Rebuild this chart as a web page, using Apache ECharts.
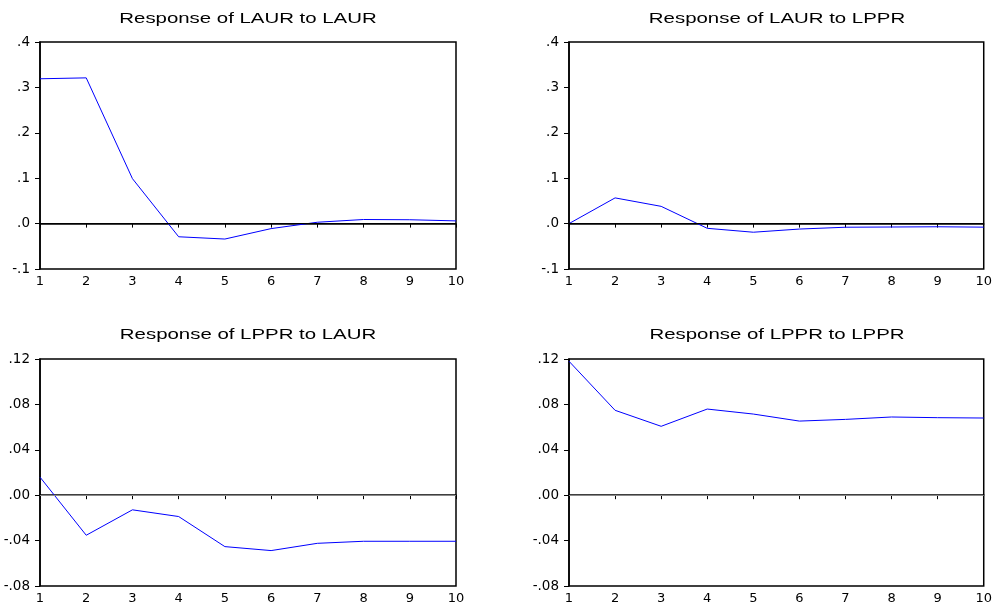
<!DOCTYPE html>
<html lang="en">
<head>
  <meta charset="UTF-8">
  <title>Impulse responses</title>
  <script src="https://cdn.jsdelivr.net/npm/echarts@6/dist/echarts.min.js"></script>
  <style>
    html, body { margin: 0; padding: 0; background: #fff; }
    #irf { width: 995px; height: 607px; }
  </style>
</head>
<body>
<div id="irf"></div>
<script>
  // periods 1..10
  var periods = [1, 2, 3, 4, 5, 6, 7, 8, 9, 10];

  // responses
  var laurToLaur = [0.319, 0.321, 0.099, -0.029, -0.034, -0.011, 0.003, 0.009, 0.0085, 0.006];
  var laurToLppr = [0.0, 0.0566, 0.038, -0.0104, -0.019, -0.012, -0.008, -0.0075, -0.007, -0.0078];
  var lpprToLaur = [0.0159, -0.0353, -0.0129, -0.0188, -0.0453, -0.0488, -0.0424, -0.0406, -0.0406, -0.0406];
  var lpprToLppr = [0.118, 0.0748, 0.0607, 0.0759, 0.0715, 0.0653, 0.0668, 0.0689, 0.0683, 0.068];

  var titles = ['Response of LAUR to LAUR', 'Response of LAUR to LPPR',
                'Response of LPPR to LAUR', 'Response of LPPR to LPPR'];
  var allSeries = [laurToLaur, laurToLppr, lpprToLaur, lpprToLppr];

  // y-axis settings: top row / bottom row
  var yTop = { min: -0.1, max: 0.4, interval: 0.1, digits: 1 };
  var yBottom = { min: -0.08, max: 0.12, interval: 0.04, digits: 2 };

  var myChart = echarts.init(document.getElementById('irf'));

  var font = 'Liberation Sans, Arial, sans-serif';
  var boxes = [
    { left: 40, top: 42, cx: 248, ty: 19 },
    { left: 569, top: 42, cx: 777, ty: 19 },
    { left: 40, top: 359, cx: 248, ty: 335 },
    { left: 569, top: 359, cx: 777, ty: 335 }
  ];

  // eviews style labels: .4  -.1  .00
  function fmt(d) {
    return function (v) {
      return v.toFixed(d).replace('0.', '.');
    };
  }

  var grids = [], xAxes = [], yAxes = [], series = [], graphics = [];
  for (var i = 0; i < 4; i++) {
    var b = boxes[i];
    var yc = i < 2 ? yTop : yBottom;
    grids.push({
      left: b.left, top: b.top, width: 416, height: 227,
      show: true, borderColor: '#000', borderWidth: 1.5, backgroundColor: '#fff'
    });
    xAxes.push({
      type: 'value', gridIndex: i, min: 1, max: 10, interval: 1,
      axisLine: { lineStyle: { color: '#000', width: 1.5 } },
      axisTick: { inside: false, length: 4, lineStyle: { color: '#000' } },
      splitLine: { show: false },
      axisLabel: { color: '#000', fontFamily: 'DejaVu Sans', fontSize: 13, margin: 6 }
    });
    yAxes.push({
      type: 'value', gridIndex: i, min: yc.min, max: yc.max, interval: yc.interval,
      axisLine: { show: true, lineStyle: { color: '#000', width: 1.5 } },
      axisTick: { show: true, inside: false, length: 5, lineStyle: { color: '#000' } },
      splitLine: { show: false },
      axisLabel: { color: '#000', fontFamily: 'DejaVu Sans', fontSize: 13.5, margin: 10,
                   formatter: fmt(yc.digits) }
    });
    var pts = periods.map(function (p, k) { return [p, allSeries[i][k]]; });
    series.push({
      type: 'line', xAxisIndex: i, yAxisIndex: i, data: pts,
      showSymbol: false, silent: true,
      lineStyle: { color: '#0000ff', width: 1 },
      markLine: {
        silent: true, symbol: 'none', label: { show: false },
        lineStyle: { color: i < 2 ? '#000' : '#8a8a8a', width: 1, type: 'solid' },
        data: [{ yAxis: 0 }]
      }
    });
    graphics.push({
      type: 'text', x: b.cx, y: b.ty, scaleX: 1.36,
      style: {
        text: titles[i], fill: '#000', font: '15px ' + font,
        textAlign: 'center', textVerticalAlign: 'middle'
      }
    });
  }

  var option = {
    animation: false,
    backgroundColor: '#fff',
    grid: grids,
    xAxis: xAxes,
    yAxis: yAxes,
    series: series,
    graphic: graphics
  };

  myChart.setOption(option);
</script>
</body>
</html>
